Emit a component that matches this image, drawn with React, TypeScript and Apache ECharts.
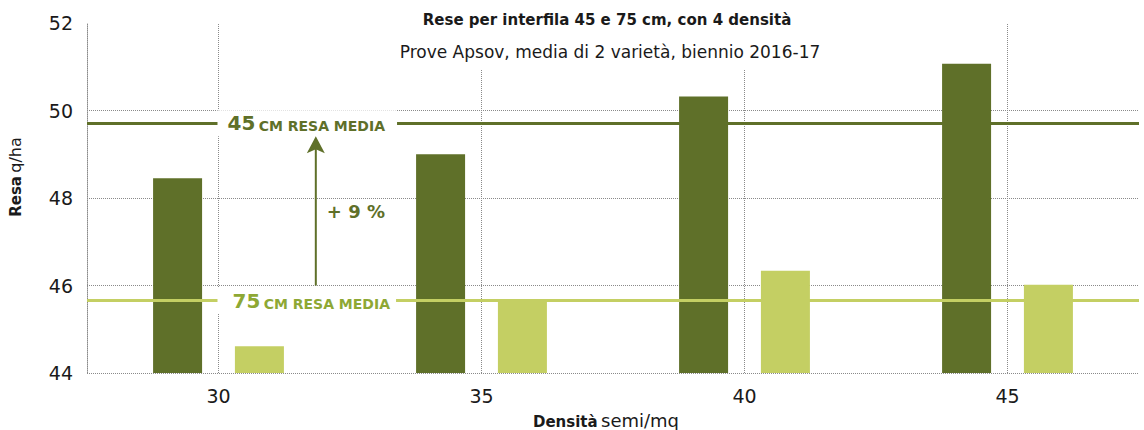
import React, { useEffect, useRef } from 'react';
import * as echarts from 'echarts';

const categories = ['30', '35', '40', '45'];
const resa45 = [48.45, 49.0, 50.32, 51.07];
const resa75 = [44.61, 45.65, 46.34, 46.02];
const yMin = 44;
const yMax = 52;
const yInterval = 2;
const titleText = 'Rese per interfila 45 e 75 cm, con 4 densità';
const subtitleText = 'Prove Apsov, media di 2 varietà, biennio 2016-17';
const label45 = ['45', 'CM RESA MEDIA'];
const label75 = ['75', 'CM RESA MEDIA'];
const gainText = '+ 9 %';
const yName = ['Resa', 'q/ha'];
const xName = ['Densità', 'semi/mq'];

const DARK = '#5f7029';
const LIGHT = '#c4cf63';
const LIGHT_TEXT = '#8ea834';
const GRID = '#8a8a8a';
const INK = '#1a1a1a';
const FONT = "'DejaVu Sans', sans-serif";

const mean = (a: number[]) => a.reduce((s, v) => s + v, 0) / a.length;

export default function App() {
  const ref = useRef<HTMLDivElement>(null);
  useEffect(() => {
    const chart = echarts.init(ref.current!, null, { renderer: 'svg' });
    const gridStyle = { color: GRID, type: 'dotted', width: 1 };
    chart.setOption({
      animation: false,
      grid: { left: 87, right: 5, top: 23, bottom: 57 },
      xAxis: {
        type: 'category',
        data: categories,
        axisLine: { show: false },
        axisTick: { show: false },
        axisLabel: { fontFamily: FONT, fontSize: 19, color: INK, margin: 13 },
        splitLine: { show: false },
      },
      yAxis: {
        type: 'value',
        min: yMin,
        max: yMax,
        interval: yInterval,
        axisLine: { show: true, lineStyle: gridStyle },
        axisTick: { show: false },
        axisLabel: { fontFamily: FONT, fontSize: 19, color: INK, margin: 14 },
        splitLine: { show: true, showMaxLine: false, lineStyle: gridStyle },
      },
      series: [
        {
          type: 'line',
          name: 'grid',
          data: [],
          silent: true,
          markLine: {
            silent: true,
            symbol: 'none',
            label: { show: false },
            lineStyle: gridStyle,
            data: categories.map((c) => ({ xAxis: c })),
          },
        },
        {
          type: 'bar',
          name: '45 cm',
          data: resa45,
          barWidth: 49,
          barGap: '67%',
          itemStyle: { color: DARK },
          markLine: {
            silent: true,
            symbol: 'none',
            label: { show: false },
            data: [{ type: 'average', lineStyle: { color: DARK, width: 3, type: 'solid' } }],
          },
        },
        {
          type: 'bar',
          name: '75 cm',
          data: resa75,
          barWidth: 49,
          barGap: '67%',
          itemStyle: { color: LIGHT },
          markLine: {
            silent: true,
            symbol: 'none',
            label: { show: false },
            data: [{ type: 'average', lineStyle: { color: LIGHT, width: 3, type: 'solid' } }],
          },
        },
      ],
    });

    const xPx = (c: string) => chart.convertToPixel({ xAxisIndex: 0 }, c) as number;
    const yPx = (v: number) => chart.convertToPixel({ yAxisIndex: 0 }, v) as number;
    const avg45 = mean(resa45);
    const avg75 = mean(resa75);
    const x30 = xPx(categories[0]);
    const x35 = xPx(categories[1]);
    const ax = x30 + 0.37 * (x35 - x30);
    const y45 = yPx(avg45);
    const y75 = yPx(avg75);
    const tip = y45 + 13;
    const bottom = yPx(46);
    const plotTop = yPx(yMax);
    const plotBottom = yPx(yMin);

    const labelStyle = (nums: string, rest: string, color: string, pad: number[]) => ({
      text: `{n|${nums}} {s|${rest}}`,
      backgroundColor: '#fff',
      padding: pad,
      align: 'left',
      verticalAlign: 'middle',
      rich: {
        n: { fontFamily: FONT, fontWeight: 'bold', fontSize: 20, fill: color, color, verticalAlign: 'bottom' },
        s: { fontFamily: FONT, fontWeight: 'bold', fontSize: 14, fill: color, color, verticalAlign: 'bottom' },
      },
    });

    const nameRich = (boldSize: number, regSize: number) => ({
      b: { fontFamily: FONT, fontWeight: 'bold', fontSize: boldSize, fill: INK, color: INK, verticalAlign: 'bottom' },
      r: { fontFamily: FONT, fontSize: regSize, fill: INK, color: INK, verticalAlign: 'bottom' },
    });

    chart.setOption({
      graphic: [
        { type: 'rect', z: 100, shape: { x: 385, y: 0, width: 450, height: 70 }, style: { fill: '#fff' } },
        {
          type: 'text', z: 101, x: 607, y: 20,
          style: { text: titleText, fontFamily: FONT, fontWeight: 'bold', fontSize: 15, fill: INK, align: 'center', verticalAlign: 'middle' },
        },
        {
          type: 'text', z: 101, x: 610, y: 52,
          style: { text: subtitleText, fontFamily: FONT, fontSize: 17, fill: INK, align: 'center', verticalAlign: 'middle' },
        },
        {
          type: 'text', z: 101, x: x30 - 1, y: y45,
          style: labelStyle(label45[0], label45[1], DARK, [3, 12, 3, 10]),
        },
        {
          type: 'text', z: 101, x: x30 - 1, y: y75,
          style: labelStyle(label75[0], label75[1], LIGHT_TEXT, [3, 6, 3, 15]),
        },
        {
          type: 'line', z: 101,
          shape: { x1: ax, y1: bottom, x2: ax, y2: tip + 12 },
          style: { stroke: DARK, lineWidth: 2 },
        },
        {
          type: 'polygon', z: 101,
          shape: { points: [[ax, tip], [ax + 9, tip + 17], [ax, tip + 13], [ax - 9, tip + 17]] },
          style: { fill: DARK },
        },
        {
          type: 'text', z: 101, x: ax + 11, y: yPx((avg45 + avg75) / 2),
          style: { text: gainText, fontFamily: FONT, fontWeight: 'bold', fontSize: 18, fill: DARK, align: 'left', verticalAlign: 'middle' },
        },
        {
          type: 'text', z: 101, x: 15, y: (plotTop + plotBottom) / 2 - 21, rotation: Math.PI / 2,
          style: {
            text: `{b|${yName[0]}} {r|${yName[1]}}`,
            align: 'center', verticalAlign: 'middle',
            rich: nameRich(15, 16),
          },
        },
        {
          type: 'text', z: 101, x: 606, y: 420,
          style: {
            text: `{b|${xName[0]}} {r|${xName[1]}}`,
            align: 'center', verticalAlign: 'middle',
            rich: nameRich(15, 18),
          },
        },
      ],
    });

    return () => chart.dispose();
  }, []);

  return (
    <div
      ref={ref}
      style={{ position: 'fixed', left: 0, top: 0, width: 1144, height: 430, background: '#fff' }}
    />
  );
}
